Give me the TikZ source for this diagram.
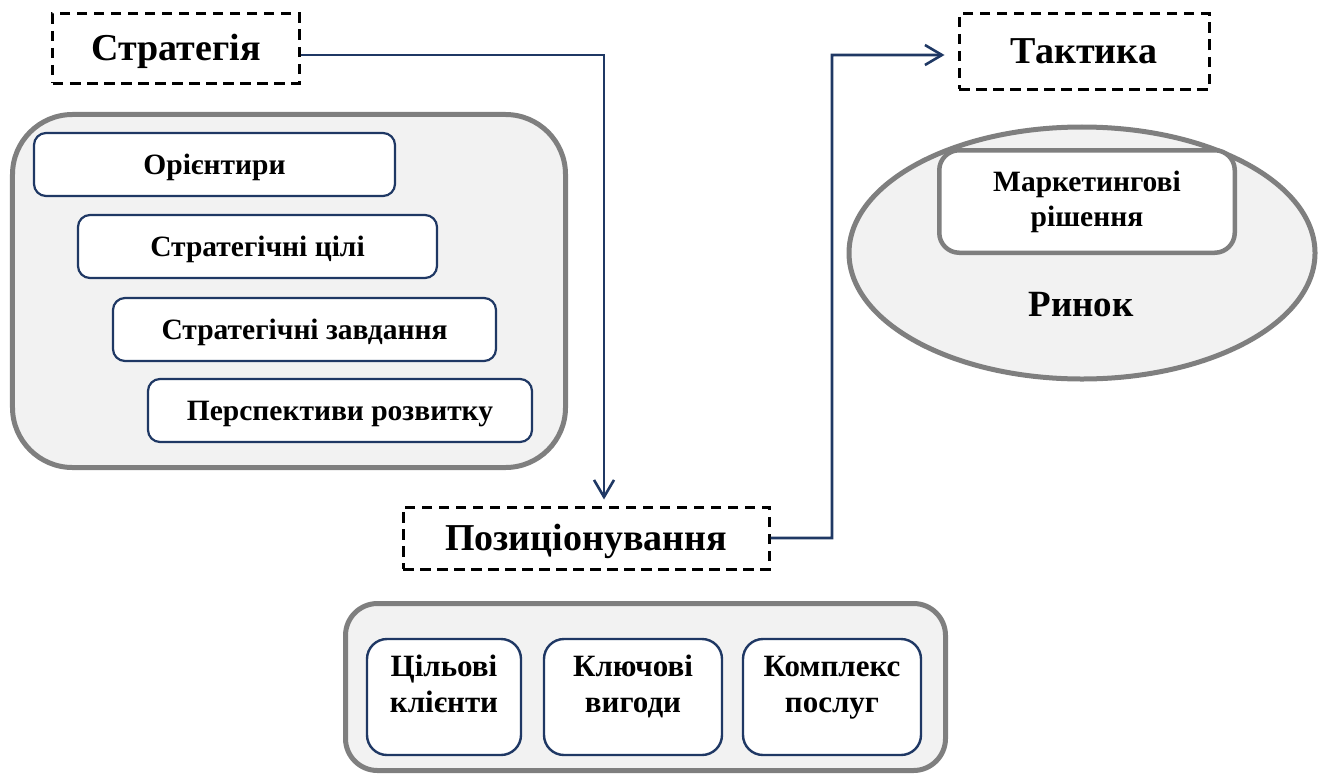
\documentclass[tikz,border=0pt]{standalone}
\usepackage{fontspec}
\setmainfont{Liberation Serif}
\usetikzlibrary{arrows.meta,shapes.geometric}
\definecolor{navy}{RGB}{31,56,100}
\definecolor{panelgray}{RGB}{127,127,127}
\definecolor{panelfill}{RGB}{242,242,242}
\begin{document}
\begin{tikzpicture}[x=1bp,y=-1bp,
  titlebox/.style={draw=black, line width=3bp, dash pattern=on 10.5bp off 6.5bp,
    inner sep=0pt, font=\fontsize{38bp}{44bp}\selectfont\bfseries,
    text height=25bp, text depth=0pt},
  panel/.style={draw=panelgray, line width=5bp, fill=panelfill, inner sep=0pt},
  item/.style={draw=navy, line width=2.2bp, fill=white, rounded corners=12bp,
    inner sep=0pt, font=\fontsize{29.5bp}{35bp}\selectfont\bfseries,
    text height=19.5bp, text depth=0pt},
  card/.style={draw=navy, line width=2.4bp, fill=white, rounded corners=20bp,
    inner sep=0pt, align=center, minimum height=116bp,
    font=\fontsize{31bp}{36bp}\selectfont\bfseries},
  arr/.style={draw=navy, line width=2.6bp, -{Straight Barb[length=17bp,width=20bp]}}]

\useasboundingbox (0,0) rectangle (1323,779);

% strategy block
\node[titlebox, minimum width=246bp, minimum height=69bp] (strat) at (176,48.5) {Стратегія};
\node[panel, rounded corners=60bp, minimum width=553bp, minimum height=353bp] (stratpanel) at (289,291) {};
\node[item, minimum width=361bp, minimum height=63bp] (i1) at (214.5,164.5) {Орієнтири};
\node[item, minimum width=359bp, minimum height=63bp] (i2) at (257.5,246.5) {Стратегічні цілі};
\node[item, minimum width=383bp, minimum height=63bp] (i3) at (304.5,329.5) {Стратегічні завдання};
\node[item, minimum width=384bp, minimum height=63bp] (i4) at (340,410.5) {Перспективи розвитку};

% tactics block
\node[titlebox, minimum width=250bp, minimum height=75bp] (takt) at (1084,51.5) {Тактика};
\node[panel, ellipse, minimum width=466bp, minimum height=252bp] (market) at (1082,253) {};
\node[draw=panelgray, line width=4.5bp, fill=white, rounded corners=20bp, inner sep=0pt,
  align=center, minimum width=295.5bp, minimum height=102.5bp, text depth=6bp,
  font=\fontsize{29.5bp}{35bp}\selectfont\bfseries] (decis) at (1087,201.5) {Маркетингові\\рішення};
\node[anchor=base, inner sep=0pt, font=\fontsize{37bp}{44bp}\selectfont\bfseries] (rynok) at (1081,316) {Ринок};

% positioning block
\node[titlebox, minimum width=366bp, minimum height=62bp] (pos) at (586,538) {Позиціонування};
\node[panel, rounded corners=32bp, minimum width=600bp, minimum height=167bp] (pospanel) at (645.5,687) {};
\node[card, minimum width=154bp, text depth=26bp] (c1) at (444,697) {Цільові\\клієнти};
\node[card, minimum width=178bp, text depth=26bp] (c2) at (633,697) {Ключові\\вигоди};
\node[card, minimum width=178bp, text depth=26bp] (c3) at (832,697) {Комплекс\\послуг};

% connectors
\coordinate (bend) at (832,55);
\draw[arr] ([yshift=-6.5bp]strat.east) -| ([xshift=18bp,yshift=6bp]pos.north);
\draw[arr] (pos.east) -| (bend) -- ([xshift=-13bp,yshift=-3.5bp]takt.west);
\end{tikzpicture}
\end{document}
